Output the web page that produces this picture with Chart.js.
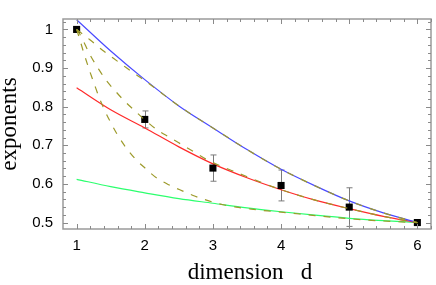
<!DOCTYPE html>
<html>
<head>
<meta charset="utf-8">
<script src="https://cdn.jsdelivr.net/npm/chart.js@4/dist/chart.umd.min.js"></script>
<style>
html,body{margin:0;padding:0;background:#fff;}
canvas{display:block;}
</style>
</head>
<body>
<canvas id="c" width="436" height="285"></canvas>
<script>
// ---- data ----
const dims = [1, 2, 3, 4, 5, 6];
const exponents = [1.0, 0.767, 0.641, 0.596, 0.540, 0.5];
const errors = [0, 0.022, 0.034, 0.040, 0.050, 0];

const blueX = [1, 1.5, 2, 2.5, 3, 3.5, 4, 4.5, 5, 5.5, 6];
const blueY = [1.025, 0.944, 0.870, 0.802, 0.745, 0.689, 0.638, 0.595, 0.556, 0.525, 0.5];

const redX = [1, 1.5, 2, 2.5, 3, 3.5, 4, 4.5, 5, 5.5, 6];
const redY = [0.849, 0.792, 0.745, 0.696, 0.652, 0.616, 0.585, 0.558, 0.536, 0.516, 0.5];

const greenX = [1, 1.5, 2, 2.5, 3, 3.5, 4, 4.5, 5, 5.5, 6];
const greenY = [0.612, 0.593, 0.577, 0.562, 0.550, 0.538, 0.528, 0.519, 0.511, 0.505, 0.5];

const dashTopX = [1, 1.19, 1.38, 1.55, 1.72, 1.89, 2.06, 2.5, 3, 3.5, 4, 4.5, 5, 5.5, 6];
const dashTopY = [1.0, 0.974, 0.946, 0.924, 0.902, 0.881, 0.860, 0.802, 0.745, 0.689, 0.638, 0.595, 0.556, 0.525, 0.5];

const dashMidX = [1, 1.04, 1.21, 1.32, 1.43, 1.58, 1.70, 1.87, 2.0, 2.18, 2.38, 2.55, 2.72, 2.91, 3.37, 4, 4.5, 5, 5.5, 6];
const dashMidY = [1.0, 0.99, 0.930, 0.898, 0.869, 0.838, 0.815, 0.787, 0.766, 0.740, 0.719, 0.701, 0.683, 0.663, 0.628, 0.585, 0.558, 0.536, 0.516, 0.5];

const dashLowX = [1, 1.05, 1.1, 1.19, 1.26, 1.33, 1.41, 1.5, 1.6, 1.72, 1.87, 2.01, 2.17, 2.35, 2.55, 2.74, 2.94, 3.15, 3.34, 3.56, 3.8, 4, 4.5, 5, 5.5, 6];
const dashLowY = [1.0, 0.972, 0.942, 0.893, 0.858, 0.824, 0.791, 0.759, 0.727, 0.695, 0.663, 0.640, 0.616, 0.598, 0.582, 0.568, 0.556, 0.546, 0.540, 0.535, 0.530, 0.527, 0.518, 0.510, 0.504, 0.5];

const xTickValues = [1, 2, 3, 4, 5, 6];
const xTickLabels = ['1', '2', '3', '4', '5', '6'];
const yTickValues = [0.5, 0.6, 0.7, 0.8, 0.9, 1.0];
const yTickLabels = ['0.5', '0.6', '0.7', '0.8', '0.9', '1'];
const xMinorStep = 0.2;
const yMinorStep = 0.02;
const xTitle = 'dimension   d';
const yTitle = 'exponents';

const pts = (xs, ys) => xs.map((x, i) => ({x: x, y: ys[i]}));

const OLIVE = '#9d9a2a';
const dashedStyle = {
  borderColor: OLIVE, borderWidth: 1.2, borderDash: [7, 8],
  pointRadius: 0, fill: false, cubicInterpolationMode: 'monotone'
};
const solidStyle = (c) => ({
  borderColor: c, borderWidth: 1.2, pointRadius: 0, fill: false,
  cubicInterpolationMode: 'monotone'
});

const frameTicks = {
  id: 'frameTicks',
  beforeDatasetsDraw(chart) {
    const ctx = chart.ctx, xs = chart.scales.x, ys = chart.scales.y;
    ctx.save();
    ctx.strokeStyle = '#7a7a7a';
    ctx.lineWidth = 1;
    dims.forEach((d, i) => {
      const e = errors[i];
      if (!e) return;
      const px = Math.round(xs.getPixelForValue(d)) + 0.5;
      const y1 = ys.getPixelForValue(exponents[i] + e);
      const y2 = ys.getPixelForValue(exponents[i] - e);
      ctx.beginPath();
      ctx.moveTo(px, y1); ctx.lineTo(px, y2);
      ctx.moveTo(px - 3, y1); ctx.lineTo(px + 3, y1);
      ctx.moveTo(px - 3, y2); ctx.lineTo(px + 3, y2);
      ctx.stroke();
    });
    ctx.restore();
  },
  afterDraw(chart) {
    const ctx = chart.ctx, a = chart.chartArea, xs = chart.scales.x, ys = chart.scales.y;
    ctx.save();
    ctx.strokeStyle = '#9a9a9a';
    ctx.lineWidth = 1.5;
    ctx.strokeRect(a.left, a.top, a.right - a.left, a.bottom - a.top);
    ctx.lineWidth = 1;
    ctx.strokeStyle = '#8a8a8a';
    ctx.beginPath();
    // x minor/major ticks (bottom and top, pointing inward)
    for (let k = 0; ; k++) {
      const v = Math.round((1 + k * xMinorStep) * 100) / 100;
      if (v > xs.max + 1e-9) break;
      const major = xTickValues.some(t => Math.abs(t - v) < 1e-9);
      const len = major ? 5 : 3;
      const px = Math.round(xs.getPixelForValue(v)) + 0.5;
      ctx.moveTo(px, a.bottom); ctx.lineTo(px, a.bottom - len);
      ctx.moveTo(px, a.top); ctx.lineTo(px, a.top + len);
    }
    for (let k = 0; ; k++) {
      const v = Math.round((0.5 + k * yMinorStep) * 1000) / 1000;
      if (v > ys.max + 1e-9) break;
      const major = yTickValues.some(t => Math.abs(t - v) < 1e-9);
      const len = major ? 5 : 3;
      const py = Math.round(ys.getPixelForValue(v)) + 0.5;
      ctx.moveTo(a.left, py); ctx.lineTo(a.left + len, py);
      ctx.moveTo(a.right, py); ctx.lineTo(a.right - len, py);
    }
    ctx.stroke();
    // axis titles
    ctx.fillStyle = '#000';
    ctx.font = '23px "Liberation Serif", "Times New Roman", serif';
    ctx.textAlign = 'center';
    ctx.textBaseline = 'alphabetic';
    ctx.fillText(xTitle, (a.left + a.right) / 2 + 3, 279);
    ctx.translate(16, (a.top + a.bottom) / 2);
    ctx.rotate(-Math.PI / 2);
    ctx.fillText(yTitle, 0, 0);
    ctx.restore();
  }
};

new Chart(document.getElementById('c'), {
  type: 'line',
  data: {
    datasets: [
      Object.assign({data: pts(dashTopX, dashTopY)}, dashedStyle),
      Object.assign({data: pts(dashMidX, dashMidY)}, dashedStyle),
      Object.assign({data: pts(dashLowX, dashLowY)}, dashedStyle),
      {
        data: pts(dims, exponents), showLine: false,
        pointStyle: 'rect', pointRadius: 5, pointBorderWidth: 0,
        pointBackgroundColor: '#000', pointBorderColor: '#000'
      },
      Object.assign({data: pts(blueX, blueY)}, solidStyle('#4a4aff')),
      Object.assign({data: pts(redX, redY)}, solidStyle('#ff2a2a')),
      Object.assign({data: pts(greenX, greenY)}, solidStyle('#2cff6e'))
    ]
  },
  options: {
    responsive: false,
    devicePixelRatio: 1,
    animation: false,
    layout: {padding: {left: 0, right: 1, top: 1, bottom: 0}},
    plugins: {legend: {display: false}, tooltip: {enabled: false}},
    scales: {
      x: {
        type: 'linear', min: 0.8, max: 6.2,
        afterBuildTicks: (s) => { s.ticks = xTickValues.map(v => ({value: v})); },
        afterFit: (s) => { s.height = 56; },
        grid: {display: false, drawTicks: false},
        border: {display: false},
        ticks: {
          callback: (v, i) => xTickLabels[i],
          font: {family: '"Liberation Sans", Arial, sans-serif', size: 15},
          color: '#000', padding: 8, maxRotation: 0, autoSkip: false
        }
      },
      y: {
        type: 'linear', min: 0.4833, max: 1.027,
        afterBuildTicks: (s) => { s.ticks = yTickValues.map(v => ({value: v})); },
        afterFit: (s) => { s.width = 63; },
        grid: {display: false, drawTicks: false},
        border: {display: false},
        ticks: {
          callback: (v, i) => yTickLabels[i],
          font: {family: '"Liberation Sans", Arial, sans-serif', size: 15},
          color: '#000', padding: 10, autoSkip: false
        }
      }
    }
  },
  plugins: [frameTicks]
});
</script>
</body>
</html>
